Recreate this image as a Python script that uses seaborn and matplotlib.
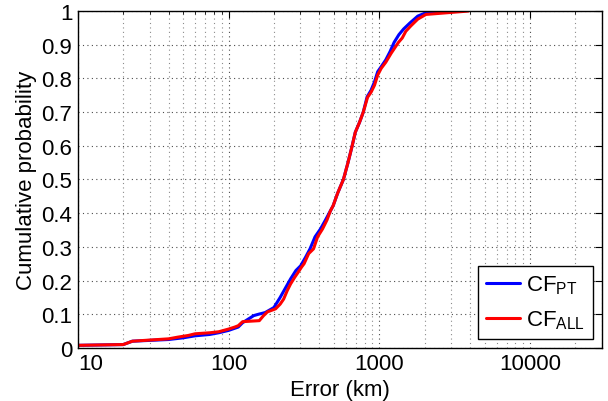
import numpy as np
import pandas as pd
import seaborn as sns
import matplotlib.pyplot as plt
from matplotlib.ticker import FuncFormatter, LogLocator, MultipleLocator

err_pt = [8, 20, 23, 40, 50, 60, 75, 86, 100, 116, 124, 147, 158, 175, 200, 220, 240, 258,
          280, 301, 325, 347, 375, 407, 440, 474, 494, 530, 578, 620, 661, 693, 740, 783,
          830, 882, 930, 976, 1030, 1104, 1180, 1254, 1350, 1452, 1600, 1800, 2040, 3500]
cdf_pt = [0.007, 0.010, 0.020, 0.025, 0.030, 0.036, 0.040, 0.045, 0.052, 0.062, 0.075, 0.096,
          0.100, 0.105, 0.120, 0.150, 0.180, 0.205, 0.230, 0.244, 0.270, 0.294, 0.330, 0.353,
          0.380, 0.407, 0.422, 0.460, 0.500, 0.550, 0.600, 0.640, 0.670, 0.700, 0.745, 0.765,
          0.790, 0.820, 0.835, 0.855, 0.880, 0.907, 0.930, 0.947, 0.965, 0.985, 0.995, 1.000]

err_all = [8, 20, 23, 40, 46, 54, 60, 75, 86, 100, 110, 116, 124, 160, 170, 181, 205, 220,
           232, 245, 258, 275, 290, 305, 317, 340, 366, 390, 420, 450, 474, 494, 530, 578,
           620, 661, 693, 740, 783, 836, 882, 930, 976, 1030, 1104, 1200, 1340, 1420, 1500,
           1620, 1800, 2040, 3900]
cdf_all = [0.007, 0.010, 0.020, 0.027, 0.032, 0.037, 0.042, 0.045, 0.048, 0.056, 0.062, 0.066,
           0.078, 0.081, 0.095, 0.107, 0.116, 0.130, 0.145, 0.170, 0.190, 0.210, 0.225, 0.240,
           0.250, 0.280, 0.294, 0.330, 0.353, 0.380, 0.407, 0.422, 0.460, 0.500, 0.550, 0.600,
           0.640, 0.670, 0.700, 0.744, 0.759, 0.780, 0.810, 0.830, 0.848, 0.875, 0.907, 0.920,
           0.940, 0.956, 0.976, 0.990, 1.000]

labels = [r'$\mathregular{CF_{PT}}$', r'$\mathregular{CF_{ALL}}$']

df = pd.concat([
    pd.DataFrame({'err': err_pt, 'cdf': cdf_pt, 'method': labels[0]}),
    pd.DataFrame({'err': err_all, 'cdf': cdf_all, 'method': labels[1]}),
])

sns.set_style('white')
plt.rcParams['font.family'] = ['Liberation Sans', 'DejaVu Sans']
plt.rcParams['mathtext.fontset'] = 'custom'
plt.rcParams['mathtext.rm'] = 'Liberation Sans'
for k in ['text.color', 'axes.labelcolor', 'xtick.color', 'ytick.color']:
    plt.rcParams[k] = 'black'

fig, ax = plt.subplots(figsize=(6.08, 4.02), dpi=100)
fig.subplots_adjust(left=0.128, right=0.990, bottom=0.132, top=0.970)

sns.lineplot(data=df, x='err', y='cdf', hue='method', palette=['#0000ff', '#ff0000'],
             estimator=None, sort=False, linewidth=2.2, ax=ax)

ax.set_xscale('log')
ax.set_xlim(10, 30000)
ax.set_ylim(0, 1)
ax.yaxis.set_major_locator(MultipleLocator(0.1))
ax.yaxis.set_major_formatter(FuncFormatter(lambda v, p: '%g' % round(v, 1)))
ax.xaxis.set_major_locator(LogLocator(base=10))
ax.xaxis.set_minor_locator(LogLocator(base=10, subs=np.arange(2, 10)))
ax.xaxis.set_major_formatter(FuncFormatter(lambda v, p: '%d' % v))

ax.grid(which='major', axis='both', linestyle=(0, (1, 3)), color='0.3', linewidth=0.8)
ax.grid(which='minor', axis='x', linestyle=(0, (1, 3)), color='0.55', linewidth=0.8)
ax.tick_params(which='both', direction='in', top=True, right=True, labelsize=16, pad=4)
ax.tick_params(which='major', length=5)
ax.tick_params(which='minor', length=2.5)
for s in ax.spines.values():
    s.set_color('black')
    s.set_linewidth(1.0)

ax.set_xlabel('Error (km)', fontsize=16, labelpad=3)
ax.set_ylabel('Cumulative probability', fontsize=16, labelpad=3)

leg = ax.legend(loc='lower right', fontsize=16, handlelength=1.5, handletextpad=0.3,
                borderaxespad=0.4, fancybox=False, framealpha=1, labelspacing=0.55,
                borderpad=0.35)
leg.get_frame().set_edgecolor('black')
leg.get_frame().set_linewidth(1.0)

# like the original, keep the "10" label clear of the y-axis "0"
fig.canvas.draw()
for t in ax.get_xticklabels():
    if t.get_text() == '10':
        t.set_horizontalalignment('left')

fig.savefig('out.png', dpi=100)
